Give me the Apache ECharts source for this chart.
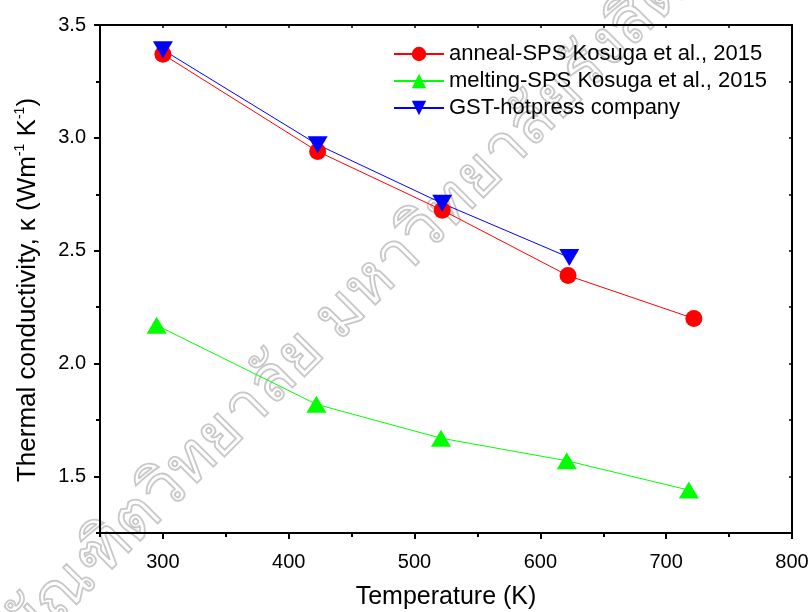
<!DOCTYPE html>
<html>
<head>
<meta charset="utf-8">
<script src="https://cdn.jsdelivr.net/npm/echarts@6/dist/echarts.min.js"></script>
<style>
  html, body { margin: 0; padding: 0; background: #fff; }
  #chart { width: 812px; height: 612px; }
</style>
</head>
<body>
<div id="chart"></div>
<script>
// values
var tempAnneal = [300, 423, 522, 622, 722]
var kAnneal = [3.37, 2.94, 2.68, 2.39, 2.20]
var tempMelt = [295, 422, 521, 621, 718]
var kMelt = [2.17, 1.82, 1.67, 1.57, 1.44]
var tempHot = [300, 423, 522, 623]
var kHot = [3.39, 2.97, 2.71, 2.47]

var xMajor = [300, 400, 500, 600, 700, 800]
var yMajor = [1.5, 2.0, 2.5, 3.0, 3.5]

var names = ['anneal-SPS Kosuga et al., 2015', 'melting-SPS Kosuga et al., 2015', 'GST-hotpress company']
var watermark = 'บัณฑิตวิทยาลัย มหาวิทยาลัยรังสิต'

var font = '"Liberation Sans", Arial, sans-serif'

function pairs(xs, ys) {
  return xs.map(function (x, i) { return [x, ys[i]] })
}

var chart = echarts.init(document.getElementById('chart'))

var axisLine = { show: true, onZero: false, lineStyle: { color: '#000', width: 2 } }

chart.setOption({
  animation: false,
  grid: { left: 100, right: 20, top: 25, bottom: 79, containLabel: false, outerBoundsMode: 'none' },
  graphic: [{
    type: 'text',
    x: 345,
    y: 310,
    rotation: Math.PI / 4,
    z: -10,
    style: {
      text: watermark,
      font: '64px "Noto Sans", "DejaVu Sans", sans-serif',
      fill: 'none',
      stroke: '#c8c8c8',
      lineWidth: 1.8,
      align: 'center',
      verticalAlign: 'middle'
    }
  }],
  legend: {
    orient: 'vertical',
    left: 388,
    top: 38,
    itemWidth: 50,
    itemHeight: 18,
    itemGap: 5,
    textStyle: { fontSize: 22, fontFamily: font, color: '#000' },
    data: names
  },
  xAxis: [{
    type: 'value',
    position: 'bottom',
    min: 250,
    max: 800,
    interval: 50,
    axisLine: axisLine,
    splitLine: { show: false },
    axisTick: { length: 4, lineStyle: { width: 2, color: '#000' } },
    axisLabel: {
      margin: 19,
      fontSize: 20,
      fontFamily: font,
      color: '#000',
      formatter: function (v) { return v % 100 === 0 ? String(v) : '' }
    },
    name: 'Temperature (K)',
    nameLocation: 'middle',
    nameGap: 52,
    nameTextStyle: { fontSize: 25, fontFamily: font, color: '#000' }
  }, {
    type: 'value',
    position: 'bottom',
    min: 250,
    max: 800,
    axisLine: { show: false },
    splitLine: { show: false },
    axisLabel: { show: false },
    axisTick: { show: true, length: 6, customValues: xMajor, lineStyle: { width: 2, color: '#000' } }
  }, {
    type: 'value',
    position: 'top',
    min: 250,
    max: 800,
    interval: 50,
    axisLine: axisLine,
    splitLine: { show: false },
    axisLabel: { show: false },
    axisTick: { inside: true, length: 3, lineStyle: { width: 1.5, color: '#000' } }
  }],
  yAxis: [{
    type: 'value',
    position: 'left',
    min: 1.25,
    max: 3.5,
    interval: 0.25,
    axisLine: axisLine,
    splitLine: { show: false },
    axisTick: { show: true, length: 4, lineStyle: { width: 2, color: '#000' } },
    axisLabel: {
      margin: 14,
      fontSize: 20,
      fontFamily: font,
      color: '#000',
      formatter: function (v) {
        return Math.abs(v * 2 - Math.round(v * 2)) < 1e-6 ? v.toFixed(1) : ''
      }
    },
    name: '{t|Thermal conductivity, κ (Wm}{s|-1}{t| K}{s|-1}{t|)}',
    nameLocation: 'middle',
    nameGap: 58,
    nameTextStyle: {
      padding: [0, 22, 0, 0],
      rich: {
        t: { fontSize: 26, fontFamily: font, color: '#000', lineHeight: 29 },
        s: { fontSize: 14, fontFamily: font, color: '#000', lineHeight: 14, verticalAlign: 'top' }
      }
    }
  }, {
    type: 'value',
    position: 'left',
    min: 1.25,
    max: 3.5,
    axisLine: { show: false },
    splitLine: { show: false },
    axisLabel: { show: false },
    axisTick: { show: true, length: 6, customValues: yMajor, lineStyle: { width: 2, color: '#000' } }
  }, {
    type: 'value',
    position: 'right',
    min: 1.25,
    max: 3.5,
    interval: 0.25,
    axisLine: axisLine,
    splitLine: { show: false },
    axisLabel: { show: false },
    axisTick: { inside: true, length: 3, lineStyle: { width: 1.5, color: '#000' } }
  }],
  series: [{
    name: names[0],
    type: 'line',
    data: pairs(tempAnneal, kAnneal),
    symbol: 'circle',
    symbolSize: 17,
    lineStyle: { color: '#ff0000', width: 1 },
    itemStyle: { color: '#ff0000' }
  }, {
    name: names[1],
    type: 'line',
    data: pairs(tempMelt, kMelt),
    symbol: 'triangle',
    symbolSize: [20, 17],
    lineStyle: { color: '#00ff00', width: 1 },
    itemStyle: { color: '#00ff00' }
  }, {
    name: names[2],
    type: 'line',
    data: pairs(tempHot, kHot),
    symbol: 'triangle',
    symbolRotate: 180,
    symbolSize: [20, 17],
    lineStyle: { color: '#0000ff', width: 1 },
    itemStyle: { color: '#0000ff' }
  }]
})
</script>
</body>
</html>
